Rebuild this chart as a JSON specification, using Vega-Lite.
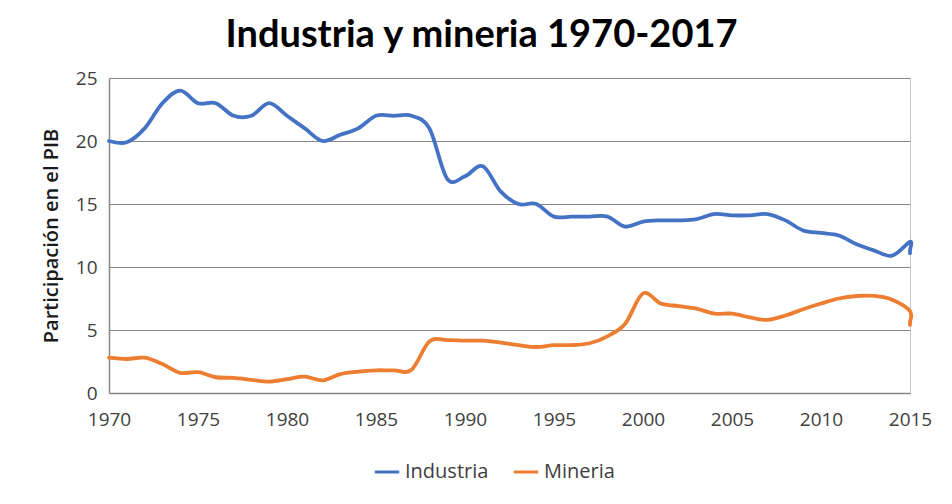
{
  "$schema": "https://vega.github.io/schema/vega-lite/v6.json",
  "width": 801,
  "height": 315,
  "autosize": {"type": "none"},
  "padding": {"left": 109, "top": 78, "right": 42, "bottom": 111},
  "background": "white",
  "title": {
    "text": "Industria y mineria 1970-2017",
    "font": "Lato",
    "fontSize": 38,
    "fontWeight": "bold",
    "color": "#000000",
    "anchor": "middle",
    "dx": -28,
    "offset": 14
  },
  "config": {
    "view": {"stroke": "#c8c8c8", "strokeWidth": 1},
    "axis": {"labelFont": "Open Sans", "titleFont": "Open Sans"}
  },
  "data": {
    "values": [
      {"year": 1970, "serie": "Industria", "valor": 20.0},
      {"year": 1971, "serie": "Industria", "valor": 19.9},
      {"year": 1972, "serie": "Industria", "valor": 21.0},
      {"year": 1973, "serie": "Industria", "valor": 23.0},
      {"year": 1974, "serie": "Industria", "valor": 24.0},
      {"year": 1975, "serie": "Industria", "valor": 23.0},
      {"year": 1976, "serie": "Industria", "valor": 23.0},
      {"year": 1977, "serie": "Industria", "valor": 22.0},
      {"year": 1978, "serie": "Industria", "valor": 22.0},
      {"year": 1979, "serie": "Industria", "valor": 23.0},
      {"year": 1980, "serie": "Industria", "valor": 22.0},
      {"year": 1981, "serie": "Industria", "valor": 21.0},
      {"year": 1982, "serie": "Industria", "valor": 20.0},
      {"year": 1983, "serie": "Industria", "valor": 20.5},
      {"year": 1984, "serie": "Industria", "valor": 21.0},
      {"year": 1985, "serie": "Industria", "valor": 22.0},
      {"year": 1986, "serie": "Industria", "valor": 22.0},
      {"year": 1987, "serie": "Industria", "valor": 22.0},
      {"year": 1988, "serie": "Industria", "valor": 21.0},
      {"year": 1989, "serie": "Industria", "valor": 17.0},
      {"year": 1990, "serie": "Industria", "valor": 17.2},
      {"year": 1991, "serie": "Industria", "valor": 18.0},
      {"year": 1992, "serie": "Industria", "valor": 16.0},
      {"year": 1993, "serie": "Industria", "valor": 15.0},
      {"year": 1994, "serie": "Industria", "valor": 15.0},
      {"year": 1995, "serie": "Industria", "valor": 14.0},
      {"year": 1996, "serie": "Industria", "valor": 14.0},
      {"year": 1997, "serie": "Industria", "valor": 14.0},
      {"year": 1998, "serie": "Industria", "valor": 14.0},
      {"year": 1999, "serie": "Industria", "valor": 13.2},
      {"year": 2000, "serie": "Industria", "valor": 13.6},
      {"year": 2001, "serie": "Industria", "valor": 13.7},
      {"year": 2002, "serie": "Industria", "valor": 13.7},
      {"year": 2003, "serie": "Industria", "valor": 13.8},
      {"year": 2004, "serie": "Industria", "valor": 14.2},
      {"year": 2005, "serie": "Industria", "valor": 14.1},
      {"year": 2006, "serie": "Industria", "valor": 14.1},
      {"year": 2007, "serie": "Industria", "valor": 14.2},
      {"year": 2008, "serie": "Industria", "valor": 13.7},
      {"year": 2009, "serie": "Industria", "valor": 12.9},
      {"year": 2010, "serie": "Industria", "valor": 12.7},
      {"year": 2011, "serie": "Industria", "valor": 12.5},
      {"year": 2012, "serie": "Industria", "valor": 11.8},
      {"year": 2013, "serie": "Industria", "valor": 11.3},
      {"year": 2014, "serie": "Industria", "valor": 10.9},
      {"year": 2015, "serie": "Industria", "valor": 12.0},
      {"year": 2016, "serie": "Industria", "valor": 11.3},
      {"year": 2017, "serie": "Industria", "valor": 11.1},
      {"year": 1970, "serie": "Mineria", "valor": 2.8},
      {"year": 1971, "serie": "Mineria", "valor": 2.7},
      {"year": 1972, "serie": "Mineria", "valor": 2.8},
      {"year": 1973, "serie": "Mineria", "valor": 2.3},
      {"year": 1974, "serie": "Mineria", "valor": 1.6},
      {"year": 1975, "serie": "Mineria", "valor": 1.65},
      {"year": 1976, "serie": "Mineria", "valor": 1.25},
      {"year": 1977, "serie": "Mineria", "valor": 1.2},
      {"year": 1978, "serie": "Mineria", "valor": 1.05},
      {"year": 1979, "serie": "Mineria", "valor": 0.9},
      {"year": 1980, "serie": "Mineria", "valor": 1.1},
      {"year": 1981, "serie": "Mineria", "valor": 1.3},
      {"year": 1982, "serie": "Mineria", "valor": 1.0},
      {"year": 1983, "serie": "Mineria", "valor": 1.5},
      {"year": 1984, "serie": "Mineria", "valor": 1.7},
      {"year": 1985, "serie": "Mineria", "valor": 1.8},
      {"year": 1986, "serie": "Mineria", "valor": 1.8},
      {"year": 1987, "serie": "Mineria", "valor": 1.85},
      {"year": 1988, "serie": "Mineria", "valor": 4.1},
      {"year": 1989, "serie": "Mineria", "valor": 4.2},
      {"year": 1990, "serie": "Mineria", "valor": 4.15},
      {"year": 1991, "serie": "Mineria", "valor": 4.15},
      {"year": 1992, "serie": "Mineria", "valor": 4.0},
      {"year": 1993, "serie": "Mineria", "valor": 3.8},
      {"year": 1994, "serie": "Mineria", "valor": 3.65},
      {"year": 1995, "serie": "Mineria", "valor": 3.8},
      {"year": 1996, "serie": "Mineria", "valor": 3.8},
      {"year": 1997, "serie": "Mineria", "valor": 3.95},
      {"year": 1998, "serie": "Mineria", "valor": 4.5},
      {"year": 1999, "serie": "Mineria", "valor": 5.5},
      {"year": 2000, "serie": "Mineria", "valor": 7.9},
      {"year": 2001, "serie": "Mineria", "valor": 7.1},
      {"year": 2002, "serie": "Mineria", "valor": 6.9},
      {"year": 2003, "serie": "Mineria", "valor": 6.7},
      {"year": 2004, "serie": "Mineria", "valor": 6.3},
      {"year": 2005, "serie": "Mineria", "valor": 6.3},
      {"year": 2006, "serie": "Mineria", "valor": 6.0},
      {"year": 2007, "serie": "Mineria", "valor": 5.8},
      {"year": 2008, "serie": "Mineria", "valor": 6.15},
      {"year": 2009, "serie": "Mineria", "valor": 6.65},
      {"year": 2010, "serie": "Mineria", "valor": 7.1},
      {"year": 2011, "serie": "Mineria", "valor": 7.5},
      {"year": 2012, "serie": "Mineria", "valor": 7.7},
      {"year": 2013, "serie": "Mineria", "valor": 7.7},
      {"year": 2014, "serie": "Mineria", "valor": 7.4},
      {"year": 2015, "serie": "Mineria", "valor": 6.5},
      {"year": 2016, "serie": "Mineria", "valor": 5.6},
      {"year": 2017, "serie": "Mineria", "valor": 5.4}
    ]
  },
  "mark": {"type": "line", "strokeWidth": 3.8, "interpolate": "cardinal", "strokeCap": "round", "strokeJoin": "round"},
  "encoding": {
    "x": {
      "field": "year",
      "type": "quantitative",
      "scale": {"domain": [1970, 2015], "clamp": true, "nice": false, "zero": false},
      "axis": {
        "title": null,
        "values": [1970, 1975, 1980, 1985, 1990, 1995, 2000, 2005, 2010, 2015],
        "format": "d",
        "grid": false,
        "ticks": false,
        "labelFlush": false,
        "domainColor": "#868686",
        "domainWidth": 1.5,
        "labelFontSize": 19,
        "labelColor": "#404040",
        "labelPadding": 17
      }
    },
    "y": {
      "field": "valor",
      "type": "quantitative",
      "scale": {"domain": [0, 25], "nice": false},
      "axis": {
        "title": "Participación en el PIB",
        "titleFontSize": 20,
        "titleFontWeight": 600,
        "titleColor": "#1a1a1a",
        "titlePadding": 14,
        "values": [0, 5, 10, 15, 20, 25],
        "grid": true,
        "gridColor": "#868686",
        "gridWidth": 1.2,
        "ticks": false,
        "labelFlush": false,
        "domainColor": "#868686",
        "domainWidth": 1.5,
        "labelFontSize": 19,
        "labelColor": "#404040",
        "labelPadding": 12
      }
    },
    "color": {
      "field": "serie",
      "type": "nominal",
      "scale": {"domain": ["Industria", "Mineria"], "range": ["#4472C4", "#ED7D31"]},
      "legend": {
        "title": null,
        "orient": "none",
        "legendX": 264,
        "legendY": 380,
        "direction": "horizontal",
        "symbolType": "stroke",
        "symbolSize": 600,
        "symbolStrokeWidth": 3,
        "labelFont": "Open Sans",
        "labelFontSize": 20,
        "labelColor": "#404040",
        "columnPadding": 18
      }
    },
    "order": {"field": "year", "type": "quantitative"}
  }
}
